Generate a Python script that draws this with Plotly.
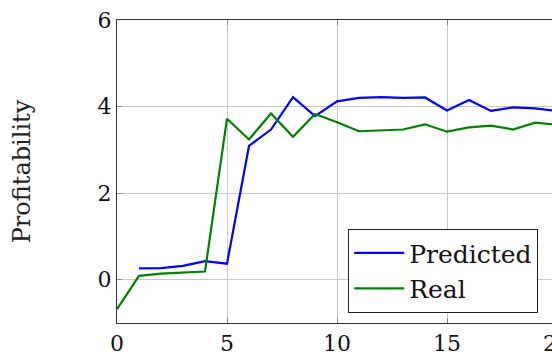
import plotly.graph_objects as go

x_pred = list(range(1, 21))
predicted = [0.26, 0.27, 0.32, 0.43, 0.37, 3.09, 3.47, 4.22, 3.78, 4.12, 4.20, 4.22, 4.20, 4.21,
             3.91, 4.15, 3.90, 3.98, 3.96, 3.90]
x_real = list(range(0, 21))
real = [-0.68, 0.09, 0.14, 0.16, 0.19, 3.72, 3.24, 3.84, 3.30, 3.83, 3.64, 3.43, 3.45, 3.47, 3.59,
        3.42, 3.52, 3.56, 3.47, 3.63, 3.58]
x_ticks = [0, 5, 10, 15, 20]
y_ticks = [0, 2, 4, 6]

FONT = "DejaVu Serif"

fig = go.Figure()
fig.add_trace(go.Scatter(x=x_pred, y=predicted, mode="lines", name="Predicted",
                         line=dict(color="#0000ff", width=2.2)))
fig.add_trace(go.Scatter(x=x_real, y=real, mode="lines", name="Real",
                         line=dict(color="#008000", width=2.2)))

axis_common = dict(showgrid=True, gridcolor="#c8c8c8", gridwidth=1, zeroline=False,
                   showline=True, linecolor="#333333", linewidth=1.2, mirror="ticks",
                   ticks="inside", ticklen=5, tickcolor="#888888", automargin=False,
                   tickfont=dict(family=FONT, size=22, color="#111111"))

fig.update_layout(
    width=600, height=360,
    margin=dict(l=117, r=43, t=20, b=37),
    paper_bgcolor="white", plot_bgcolor="white",
    xaxis=dict(range=[0, 20], tickvals=x_ticks, **axis_common),
    yaxis=dict(range=[-1, 6], tickvals=y_ticks,
               title=dict(text="Profitability", font=dict(family=FONT, size=24, color="#222222"),
                          standoff=60),
               **axis_common),
    legend=dict(x=0.525, y=0.033, xanchor="left", yanchor="bottom",
                bordercolor="#222222", borderwidth=1.2, bgcolor="white",
                font=dict(family=FONT, size=25, color="#111111"),
                tracegroupgap=0, itemwidth=50),
    showlegend=True,
)

fig.write_html("out.html", post_script="document.documentElement.style.overflow='hidden';document.body.style.overflow='hidden';document.body.style.margin='0';")
